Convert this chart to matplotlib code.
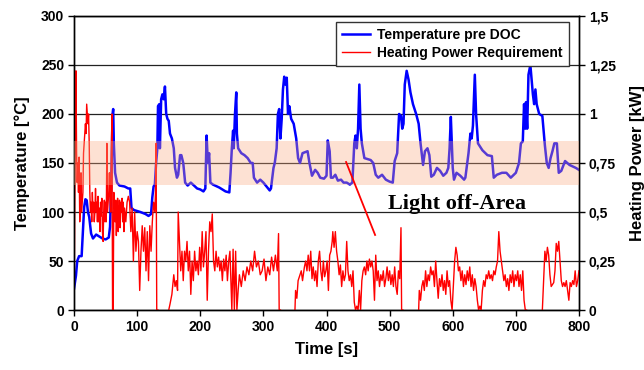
import numpy as np
import matplotlib
matplotlib.use('Agg')
from matplotlib import pyplot as plt

# Temperature pre DOC [°C]
t_temp = [0, 3, 5, 8, 12, 14, 16, 18, 20, 22, 24, 27, 30, 35, 40, 45, 50, 55, 57, 59,
          61, 62, 63, 65, 68, 72, 80, 86, 89, 91, 95, 105, 113, 118, 122, 124, 126, 128, 130, 132,
          133, 135, 136, 138, 140, 142, 144, 146, 148, 150, 152, 155, 158, 160, 163, 165, 168, 170, 173, 176,
          180, 185, 190, 195, 200, 205, 208, 210, 212, 214, 216, 220, 230, 240, 246, 248, 250, 252, 253, 255,
          257, 258, 260, 265, 270, 275, 280, 283, 285, 290, 295, 300, 305, 310, 312, 316, 318, 321, 323, 325,
          327, 329, 331, 333, 335, 337, 339, 341, 344, 348, 352, 355, 358, 362, 370, 373, 377, 382, 386, 390,
          396, 400, 402, 405, 407, 410, 414, 418, 423, 427, 432, 437, 441, 444, 446, 448, 450, 452, 454, 456,
          460, 470, 474, 478, 482, 488, 494, 500, 505, 508, 512, 515, 518, 520, 522, 524, 527, 530, 533, 537,
          542, 546, 549, 553, 556, 560, 563, 566, 570, 575, 580, 585, 590, 593, 595, 597, 598, 600, 602, 606,
          612, 618, 620, 625, 628, 630, 632, 635, 637, 640, 647, 655, 662, 665, 670, 678, 685, 692, 700, 705,
          708, 711, 713, 715, 716, 718, 720, 723, 725, 727, 729, 731, 733, 737, 742, 746, 749, 752, 755, 758,
          761, 765, 768, 772, 778, 785, 795, 800]
temp = [22, 35, 50, 55, 55, 80, 105, 113, 112, 100, 95, 78, 73, 77, 75, 73, 72, 74, 85, 130,
        200, 205, 170, 140, 130, 127, 126, 124, 124, 104, 102, 100, 98, 96, 98, 115, 126, 128, 150, 165,
        208, 210, 165, 215, 220, 215, 228, 200, 195, 193, 180, 175, 165, 145, 135, 138, 158, 158, 150, 130,
        127, 130, 127, 124, 123, 121, 124, 178, 150, 160, 130, 128, 125, 121, 120, 140, 165, 183, 165, 200,
        222, 180, 165, 160, 158, 155, 150, 150, 135, 130, 133, 130, 126, 122, 124, 145, 150, 165, 200, 205,
        175, 195, 225, 238, 230, 237, 200, 208, 195, 190, 175, 155, 150, 160, 162, 150, 137, 143, 140, 135,
        134, 137, 173, 162, 135, 135, 138, 132, 133, 130, 130, 128, 130, 170, 178, 165, 185, 230, 185, 170,
        155, 153, 150, 138, 135, 138, 133, 131, 130, 152, 160, 200, 198, 185, 190, 230, 244, 235, 222, 210,
        200, 190, 170, 148, 162, 165, 158, 136, 138, 145, 142, 137, 140, 145, 165, 197, 180, 145, 133, 140,
        137, 133, 135, 160, 180, 175, 188, 240, 200, 170, 163, 158, 157, 135, 138, 140, 140, 135, 140, 150,
        170, 172, 210, 185, 212, 185, 240, 250, 235, 220, 210, 225, 210, 200, 198, 168, 150, 145, 155, 162,
        170, 170, 140, 142, 152, 148, 145, 143]

# Heating Power Requirement [kW] (nan = no signal)
nan = np.nan
t_pow = [0, 1, 2, 3, 4, 5, 6, 7, 8, 9, 10, 11, 12, 14, 15, 16, 17, 18, 19, 20,
         21, 22, 23, 24, 25, 26, 27, 28, 29, 30, 31, 32, 33, 34, 35, 36, 37, 38, 39, 40,
         41, 42, 43, 44, 45, 46, 47, 48, 49, 50, 51, 52, 53, 54, 55, 56, 57, 58, 59, 60,
         61, 62, 63, 64, 65, 66, 67, 68, 69, 70, 71, 72, 73, 74, 75, 76, 77, 78, 79, 80,
         82, 84, 86, 88, 90, 92, 94, 96, 98, 100, 102, 104, 106, 108, 110, 112, 114, 116, 118, 120,
         122, 124, 126, 128, 129, 130, 131, 133, 140,
         150, 152, 155, 158, 160, 162, 164, 165, 167, 169, 171, 173, 175, 177, 179, 181, 183, 185, 187, 189,
         191, 193, 195, 197, 199, 201, 203, 205, 207, 209, 211, 213, 215, 217, 219, 221, 223, 225, 227, 229,
         231, 233, 235, 237, 239, 241, 243, 245, 247, 249, 250, 252, 254, 256, 258, 260, 262, 265, 268, 271,
         274, 277, 280, 283, 286, 289, 292, 295, 298, 301, 304, 307, 310, 313, 316, 319, 322, 324, 325, 327, 340,
         350, 351, 353, 355, 358, 360, 362, 365, 367, 369, 371, 373, 375, 377, 379, 381, 383, 385, 387, 389,
         391, 393, 395, 397, 399, 401, 403, 405, 407, 409, 410, 412, 414, 416, 418, 420, 422, 424, 426, 428,
         430, 432, 434, 436, 438, 440, 442, 444, 446, 448, 450, 452, 454, 456, 458, 460, 462, 464, 466, 468,
         470, 472, 474, 476, 478, 480, 482, 484, 486, 488, 490, 492, 494, 496, 498, 500, 502, 504, 506, 508,
         510, 512, 514, 516, 518, 519, 521, 530,
         546, 547, 549, 551, 553, 555, 557, 559, 561, 563, 565, 567, 569, 571, 573, 575, 577, 579, 581, 583,
         585, 587, 589, 591, 593, 595, 597, 599, 601, 603, 605, 607, 609, 611, 613, 615, 617, 619, 621, 623,
         625, 627, 629, 631, 633, 635, 637, 639, 641, 643, 645, 647, 649, 651, 653, 655, 657, 659, 661, 663,
         665, 667, 669, 671, 673, 675, 677, 679, 681, 683, 685, 687, 689, 691, 693, 695, 697, 699, 701, 703,
         705, 707, 709, 711, 713, 715, 717, 730,
         742, 744, 746, 748, 750, 752, 754, 756, 758, 760, 762, 764, 766, 768, 770, 772, 774, 776, 778, 780,
         782, 784, 786, 788, 790, 792, 794, 796, 798, 800]
power = [0.0, 0.5, 0.9, 1.22, 0.8, 0.65, 0.75, 0.6, 0.78, 0.45, 0.55, 0.7, 0.5, 0.6, 0.8, 0.85, 0.9, 0.95, 0.9, 1.05,
         1.0, 0.95, 1.0, 0.85, 0.6, 0.5, 0.55, 0.45, 0.6, 0.5, 0.55, 0.45, 0.5, 0.62, 0.5, 0.55, 0.45, 0.58, 0.45, 0.52,
         0.4, 0.55, 0.48, 0.57, 0.4, 0.35, 0.5, 0.56, 0.45, 0.55, 0.45, 0.85, 0.5, 0.55, 0.6, 0.7, 0.55, 0.5, 0.8, 1.0,
         0.0, 0.0, 0.6, 0.55, 0.45, 0.56, 0.38, 0.5, 0.57, 0.4, 0.5, 0.56, 0.42, 0.55, 0.5, 0.57, 0.45, 0.55, 0.4, 0.52,
         0.45, 0.55, 0.58, 0.55, 0.4, 0.52, 0.25, 0.5, 0.3, 0.4, 0.35, 0.1, 0.3, 0.43, 0.3, 0.42, 0.2, 0.4, 0.15, 0.43,
         0.3, 0.45, 0.55, 0.5, 0.6, 0.85, 0.0, 0.0, nan,
         0.0, 0.03, 0.08, 0.18, 0.12, 0.15, 0.1, 0.5, 0.35, 0.2, 0.3, 0.15, 0.3, 0.25, 0.35, 0.2, 0.3, 0.08, 0.25, 0.15,
         0.3, 0.2, 0.25, 0.18, 0.32, 0.2, 0.4, 0.22, 0.3, 0.4, 0.05, 0.3, 0.45, 0.4, 0.49, 0.25, 0.2, 0.3, 0.22, 0.27,
         0.2, 0.25, 0.15, 0.26, 0.2, 0.28, 0.15, 0.25, 0.3, 0.1, 0.0, 0.31, 0.0, 0.3, 0.0, 0.1, 0.18, 0.12, 0.2, 0.15,
         0.22, 0.18, 0.25, 0.2, 0.3, 0.22, 0.25, 0.18, 0.2, 0.26, 0.15, 0.22, 0.18, 0.27, 0.2, 0.28, 0.2, 0.39, 0.0, 0.0, nan,
         0.0, 0.1, 0.06, 0.15, 0.18, 0.2, 0.15, 0.22, 0.25, 0.2, 0.28, 0.2, 0.3, 0.16, 0.22, 0.15, 0.2, 0.12, 0.25, 0.3,
         0.2, 0.15, 0.25, 0.17, 0.2, 0.25, 0.1, 0.28, 0.3, 0.35, 0.4, 0.32, 0.4, 0.3, 0.25, 0.18, 0.23, 0.12, 0.2, 0.15,
         0.18, 0.35, 0.2, 0.15, 0.18, 0.12, 0.2, 0.04, 0.0, 0.02, 0.0, 0.1, 0.0, 0.15, 0.2, 0.22, 0.18, 0.25, 0.2, 0.26,
         0.22, 0.25, 0.2, 0.05, 0.28, 0.15, 0.2, 0.12, 0.18, 0.15, 0.2, 0.12, 0.16, 0.22, 0.15, 0.2, 0.13, 0.18, 0.12, 0.22,
         0.12, 0.08, 0.2, 0.16, 0.42, 0.0, 0.0, nan,
         0.0, 0.1, 0.05, 0.12, 0.15, 0.1, 0.2, 0.12, 0.18, 0.15, 0.22, 0.18, 0.2, 0.12, 0.25, 0.15, 0.06, 0.16, 0.12, 0.18,
         0.1, 0.15, 0.08, 0.2, 0.12, 0.15, 0.05, 0.0, 0.12, 0.25, 0.32, 0.28, 0.2, 0.22, 0.15, 0.2, 0.12, 0.18, 0.13, 0.2,
         0.15, 0.22, 0.12, 0.18, 0.1, 0.16, 0.12, 0.05, 0.0, 0.02, 0.0, 0.1, 0.15, 0.12, 0.18, 0.16, 0.2, 0.16, 0.18, 0.15,
         0.2, 0.18, 0.22, 0.25, 0.4, 0.3, 0.25, 0.2, 0.15, 0.18, 0.12, 0.16, 0.1, 0.18, 0.14, 0.2, 0.12, 0.18, 0.15, 0.2,
         0.12, 0.18, 0.1, 0.2, 0.05, 0.0, 0.0, nan,
         0.0, 0.15, 0.3, 0.25, 0.32, 0.28, 0.18, 0.12, 0.13, 0.14, 0.2, 0.34, 0.3, 0.35, 0.25, 0.15, 0.12, 0.14, 0.12, 0.15,
         0.1, 0.05, 0.14, 0.12, 0.15, 0.13, 0.2, 0.12, 0.15, 0.2]

light_off = (128, 172)  # °C
temp_ticks = [0, 50, 100, 150, 200, 250, 300]
pow_ticks = [0, 0.25, 0.5, 0.75, 1, 1.25, 1.5]
pow_labels = ['0', '0,25', '0,5', '0,75', '1', '1,25', '1,5']

plt.rcParams['font.family'] = 'Liberation Sans'
plt.rcParams['font.weight'] = 'bold'

fig = plt.figure(figsize=(6.44, 3.70), dpi=100)
ax = fig.add_axes([0.115, 0.162, 0.784, 0.795])
ax2 = ax.twinx()

ax.plot(t_temp, temp, color='#0000ff', lw=1.8, label='Temperature pre DOC')
ax2.plot(t_pow, power, color='#ff0000', lw=1.0, label='Heating Power Requirement')

# light-off band on top, semi transparent
ax2.axhspan(light_off[0] / 200, light_off[1] / 200, color=(0.98, 0.67, 0.51), alpha=0.35, lw=0, zorder=3)
ax2.plot([431, 477], [0.755, 0.383], color='#ff0000', lw=1.3, zorder=4)
ax2.text(606, 0.54, 'Light off-Area', family='Liberation Serif', weight='bold', fontsize=16,
         ha='center', va='center', zorder=4)

ax.set_xlim(0, 800)
ax.set_ylim(0, 300)
ax2.set_ylim(0, 1.5)
ax.set_xticks(range(0, 801, 100))
ax.set_yticks(temp_ticks)
ax2.set_yticks(pow_ticks)
ax2.set_yticklabels(pow_labels)
ax.yaxis.grid(True, color='#222222', lw=0.9)
ax.set_axisbelow(True)
for a in (ax, ax2):
    a.tick_params(labelsize=10, length=4, width=1, direction='out', pad=3)
    for s in a.spines.values():
        s.set_linewidth(1)

ax.set_xlabel('Time [s]', fontsize=12, fontweight='bold', labelpad=6)
ax.set_ylabel('Temperature [°C]', fontsize=12, fontweight='bold', labelpad=8)
ax2.set_ylabel('Heating Power [kW]', fontsize=12, fontweight='bold', labelpad=10)

h1, l1 = ax.get_legend_handles_labels()
h2, l2 = ax2.get_legend_handles_labels()
leg = ax2.legend(h1 + h2, l1 + l2, loc='upper right', bbox_to_anchor=(0.98, 0.98), borderaxespad=0,
                 fancybox=False, edgecolor='#333333', framealpha=1, fontsize=10, handlelength=2.0,
                 handletextpad=0.5, borderpad=0.45, labelspacing=0.3)
leg.get_frame().set_linewidth(1)
leg.set_zorder(5)

fig.savefig('out.png', dpi=100)
